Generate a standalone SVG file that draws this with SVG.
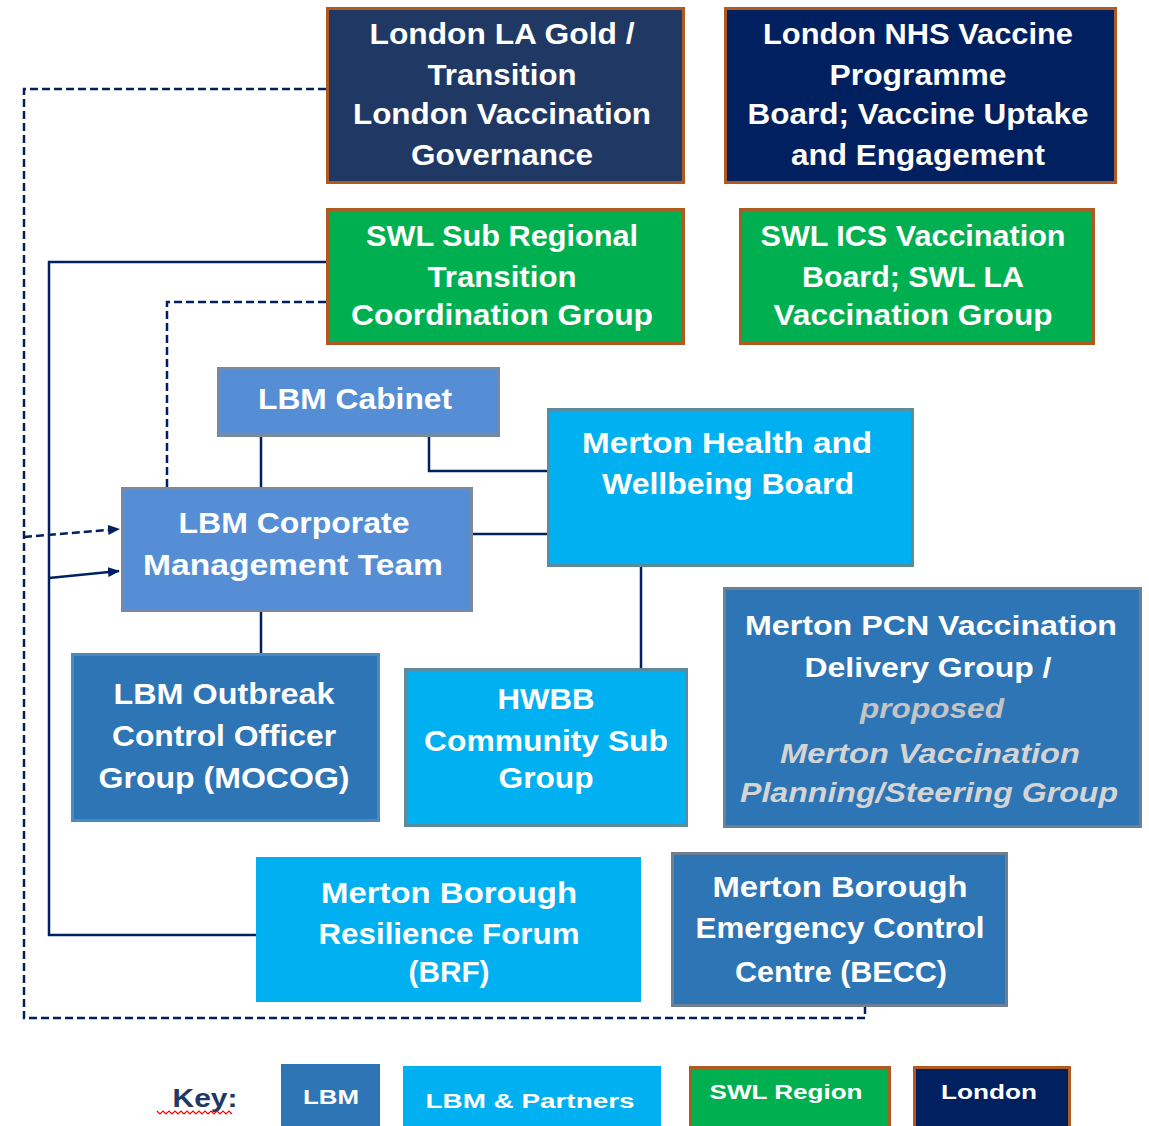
<svg xmlns="http://www.w3.org/2000/svg" width="1149" height="1126" viewBox="0 0 1149 1126">
<style>
text{font-family:"Liberation Sans",Arial,sans-serif;font-weight:bold;fill:#ffffff;text-anchor:middle}
.t30{font-size:30px}
.t28{font-size:28px}
.it{font-style:italic;fill:#d4d4d4}
.k{font-size:21px}
.lon{stroke:#ae5a21;stroke-width:3}
.lbm1{fill:#558ed5;stroke:#7a8a9e;stroke-width:3}
.lbm2{fill:#2e75b6;stroke:#6e7f92;stroke-width:3}
.part{fill:#00b0f0;stroke:#5a8c9e;stroke-width:3}
.c{fill:none;stroke:#002060;stroke-width:2.5}
.d{stroke-dasharray:8 4}
</style>
<defs>
<marker id="ah" markerUnits="userSpaceOnUse" markerWidth="12" markerHeight="10" refX="11" refY="5" orient="auto">
<path d="M0,0 L12,5 L0,10 Z" fill="#002060"/>
</marker>
</defs>
<rect width="1149" height="1126" fill="#ffffff"/>
<g id="connectors">
<path class="c d" d="M326,89 H24 V1018 H865 V1007"/>
<path class="c d" d="M24,537 L119,529" marker-end="url(#ah)"/>
<path class="c" d="M326,262 H49 V935 H256"/>
<path class="c" d="M49,578 L119,571" marker-end="url(#ah)"/>
<path class="c d" d="M326,302 H167 V488"/>
<path class="c" d="M261,437 V487"/>
<path class="c" d="M429,437 V471 H547"/>
<path class="c" d="M473,534 H547"/>
<path class="c" d="M261,612 V653"/>
<path class="c" d="M641,567 V668"/>
</g>
<g id="london-la-gold">
<rect class="lon" x="327.5" y="8.5" width="356" height="174" fill="#203864"/>
<text class="t30" x="502" y="44" textLength="265" lengthAdjust="spacingAndGlyphs">London LA Gold /</text>
<text class="t30" x="502" y="85" textLength="149" lengthAdjust="spacingAndGlyphs">Transition</text>
<text class="t30" x="502" y="124" textLength="298" lengthAdjust="spacingAndGlyphs">London Vaccination</text>
<text class="t30" x="502" y="165" textLength="182" lengthAdjust="spacingAndGlyphs">Governance</text>
</g>
<g id="london-nhs">
<rect class="lon" x="725.5" y="8.5" width="390" height="174" fill="#002060"/>
<text class="t30" x="918" y="44" textLength="310" lengthAdjust="spacingAndGlyphs">London NHS Vaccine</text>
<text class="t30" x="918" y="85" textLength="177" lengthAdjust="spacingAndGlyphs">Programme</text>
<text class="t30" x="918" y="124" textLength="341" lengthAdjust="spacingAndGlyphs">Board; Vaccine Uptake</text>
<text class="t30" x="918" y="165" textLength="254" lengthAdjust="spacingAndGlyphs">and Engagement</text>
</g>
<g id="swl-sub-regional">
<rect class="lon" x="327.5" y="209.5" width="356" height="134" fill="#00b050"/>
<text class="t30" x="502" y="246" textLength="272" lengthAdjust="spacingAndGlyphs">SWL Sub Regional</text>
<text class="t30" x="502" y="287" textLength="149" lengthAdjust="spacingAndGlyphs">Transition</text>
<text class="t30" x="502" y="325" textLength="302" lengthAdjust="spacingAndGlyphs">Coordination Group</text>
</g>
<g id="swl-ics">
<rect class="lon" x="740.5" y="209.5" width="353" height="134" fill="#00b050"/>
<text class="t30" x="913" y="246" textLength="305" lengthAdjust="spacingAndGlyphs">SWL ICS Vaccination</text>
<text class="t30" x="913" y="287" textLength="222" lengthAdjust="spacingAndGlyphs">Board; SWL LA</text>
<text class="t30" x="913" y="325" textLength="279" lengthAdjust="spacingAndGlyphs">Vaccination Group</text>
</g>
<g id="lbm-cabinet">
<rect class="lbm1" x="218.5" y="368.5" width="280" height="67"/>
<text class="t30" x="355" y="409" textLength="194" lengthAdjust="spacingAndGlyphs">LBM Cabinet</text>
</g>
<g id="merton-hwb">
<rect class="part" x="548.5" y="409.5" width="364" height="156"/>
<text class="t30" x="727" y="453" textLength="290" lengthAdjust="spacingAndGlyphs">Merton Health and</text>
<text class="t30" x="728" y="494" textLength="252" lengthAdjust="spacingAndGlyphs">Wellbeing Board</text>
</g>
<g id="lbm-cmt">
<rect class="lbm1" x="122.5" y="488.5" width="349" height="122"/>
<text class="t30" x="294" y="533" textLength="231" lengthAdjust="spacingAndGlyphs">LBM Corporate</text>
<text class="t30" x="293" y="575" textLength="300" lengthAdjust="spacingAndGlyphs">Management Team</text>
</g>
<g id="lbm-outbreak">
<rect x="72.5" y="654.5" width="306" height="166" fill="#2e75b6" stroke="#4a8bbb" stroke-width="3"/>
<text class="t30" x="224" y="704" textLength="221" lengthAdjust="spacingAndGlyphs">LBM Outbreak</text>
<text class="t30" x="224" y="746" textLength="224" lengthAdjust="spacingAndGlyphs">Control Officer</text>
<text class="t30" x="224" y="788" textLength="251" lengthAdjust="spacingAndGlyphs">Group (MOCOG)</text>
</g>
<g id="hwbb-community">
<rect class="part" x="405.5" y="669.5" width="281" height="156"/>
<text class="t30" x="546" y="709" textLength="97" lengthAdjust="spacingAndGlyphs">HWBB</text>
<text class="t30" x="546" y="751" textLength="244" lengthAdjust="spacingAndGlyphs">Community Sub</text>
<text class="t30" x="546" y="788" textLength="95" lengthAdjust="spacingAndGlyphs">Group</text>
</g>
<g id="merton-pcn">
<rect class="lbm2" x="724.5" y="588.5" width="416" height="238"/>
<text class="t28" x="931" y="635" textLength="372" lengthAdjust="spacingAndGlyphs">Merton PCN Vaccination</text>
<text class="t28" x="928" y="677" textLength="247" lengthAdjust="spacingAndGlyphs">Delivery Group /</text>
<text class="t28 it" x="932" y="718" textLength="144" lengthAdjust="spacingAndGlyphs" style="fill:#c4c4c4">proposed</text>
<text class="t28 it" x="930" y="763" textLength="300" lengthAdjust="spacingAndGlyphs">Merton Vaccination</text>
<text class="t28 it" x="929" y="802" textLength="378" lengthAdjust="spacingAndGlyphs">Planning/Steering Group</text>
</g>
<g id="merton-brf">
<rect x="256" y="857" width="385" height="145" fill="#00b0f0"/>
<text class="t30" x="449" y="903" textLength="256" lengthAdjust="spacingAndGlyphs">Merton Borough</text>
<text class="t30" x="449" y="944" textLength="261" lengthAdjust="spacingAndGlyphs">Resilience Forum</text>
<text class="t30" x="449" y="982" textLength="81" lengthAdjust="spacingAndGlyphs">(BRF)</text>
</g>
<g id="merton-becc">
<rect class="lbm2" x="672.5" y="853.5" width="334" height="152"/>
<text class="t30" x="840" y="897" textLength="255" lengthAdjust="spacingAndGlyphs">Merton Borough</text>
<text class="t30" x="840" y="938" textLength="289" lengthAdjust="spacingAndGlyphs">Emergency Control</text>
<text class="t30" x="841" y="982" textLength="212" lengthAdjust="spacingAndGlyphs">Centre (BECC)</text>
</g>
<g id="key">
<text x="205" y="1107" style="font-size:26px;fill:#203864" textLength="65" lengthAdjust="spacingAndGlyphs">Key:</text>
<polyline points="157,1111 160,1114 163,1111 166,1114 169,1111 172,1114 175,1111 178,1114 181,1111 184,1114 187,1111 190,1114 193,1111 196,1114 199,1111 202,1114 205,1111 208,1114 211,1111 214,1114 217,1111 220,1114 223,1111 226,1114 229,1111 232,1114" fill="none" stroke="#ff0000" stroke-width="1.2"/>
<rect x="281" y="1064" width="99" height="62" fill="#2e75b6"/>
<text class="k" x="331" y="1104" textLength="56" lengthAdjust="spacingAndGlyphs">LBM</text>
<rect x="403" y="1066" width="258" height="60" fill="#00b0f0"/>
<text class="k" x="530" y="1108" textLength="209" lengthAdjust="spacingAndGlyphs">LBM &amp; Partners</text>
<rect class="lon" x="690.5" y="1067.5" width="199" height="60" fill="#00b050"/>
<text class="k" x="786" y="1099" textLength="153" lengthAdjust="spacingAndGlyphs">SWL Region</text>
<rect class="lon" x="914.5" y="1067.5" width="155" height="60" fill="#002060"/>
<text class="k" x="989" y="1099" textLength="96" lengthAdjust="spacingAndGlyphs">London</text>
</g>
</svg>
